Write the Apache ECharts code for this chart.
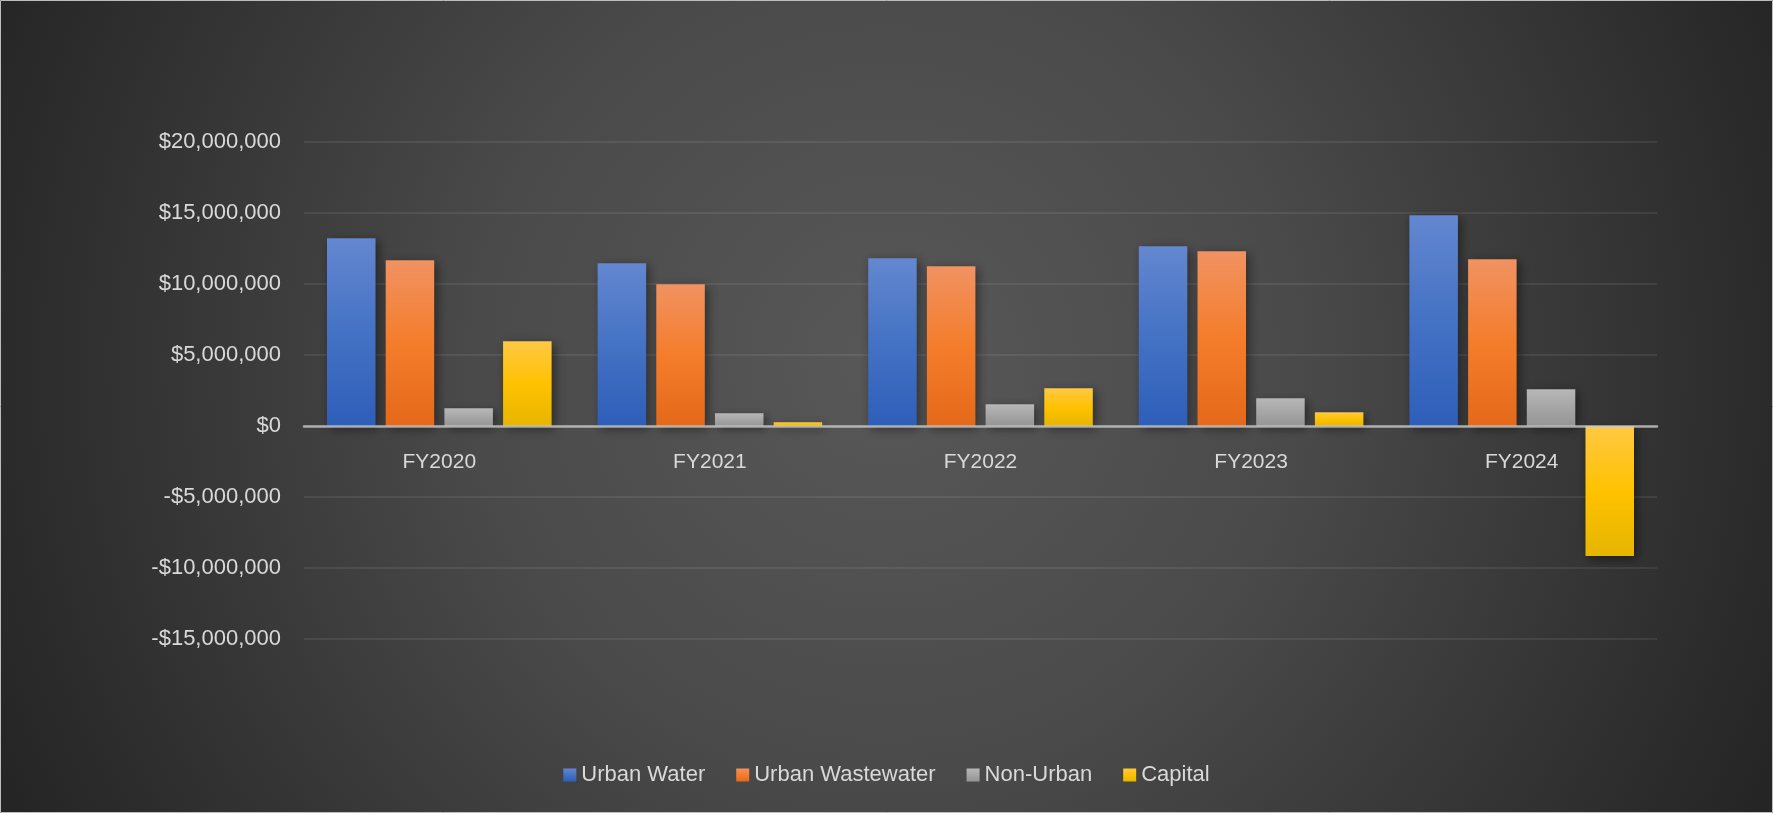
<!DOCTYPE html>
<html>
<head>
<meta charset="utf-8">
<script src="https://cdn.jsdelivr.net/npm/echarts@6/dist/echarts.min.js"></script>
<style>
html,body{margin:0;padding:0;background:#2a2a2a;}
#chart{width:1773px;height:813px;}
</style>
</head>
<body>
<div id="chart"></div>
<script>
const categories = ['FY2020', 'FY2021', 'FY2022', 'FY2023', 'FY2024'];
const urbanWater = [13220000, 11460000, 11810000, 12650000, 14840000];
const urbanWastewater = [11670000, 9980000, 11250000, 12300000, 11740000];
const nonUrban = [1250000, 890000, 1530000, 1950000, 2580000];
const capital = [5960000, 260000, 2650000, 960000, -9150000];
const seriesNames = ['Urban Water', 'Urban Wastewater', 'Non-Urban', 'Capital'];
const yMin = -15000000, yMax = 20000000, yStep = 5000000;

const FONT = '"Liberation Sans", Arial, sans-serif';
const TXT = '#d9d9d9';

function grad(c0, c1, c2) {
  return { type: 'linear', x: 0, y: 0, x2: 0, y2: 1,
    colorStops: [{ offset: 0, color: c0 }, { offset: 0.5, color: c1 }, { offset: 1, color: c2 }] };
}
const colors = [
  grad('#6487d0', '#4472c4', '#2e5eb9'),
  grad('#f19262', '#f47d2b', '#e4691a'),
  grad('#b7b7b7', '#a6a6a6', '#959595'),
  grad('#ffc844', '#ffc200', '#e6b500')
];

function money(v) {
  const s = Math.abs(v).toString().replace(/\B(?=(\d{3})+(?!\d))/g, ',');
  return (v < 0 ? '-' : '') + '$' + s;
}

const H = 813, gridTop = 142, gridBottom = 174;
const plotH = H - gridTop - gridBottom;
// distance from bottom of plot up to the zero line, derived from the axis range
const zeroOffset = plotH * (0 - yMin) / (yMax - yMin);

const chart = echarts.init(document.getElementById('chart'), null, { renderer: 'canvas' });
const dataSets = [urbanWater, urbanWastewater, nonUrban, capital];

chart.setOption({
  animation: false,
  backgroundColor: {
    type: 'radial', x: 0.5, y: 0.45, r: 1.2,
    colorStops: [
      { offset: 0, color: '#585858' },
      { offset: 0.42, color: '#4a4a4a' },
      { offset: 0.9, color: '#2b2b2b' },
      { offset: 1, color: '#252525' }
    ]
  },
  textStyle: { fontFamily: FONT },
  graphic: [{
    type: 'rect', silent: true, z: 100,
    shape: { x: 0.5, y: 0.5, width: 1772, height: 812 },
    style: { fill: 'none', stroke: '#bdbdbd', lineWidth: 1 }
  }],
  grid: { left: 304, right: 116, top: gridTop, bottom: gridBottom, containLabel: false },
  legend: {
    bottom: 22,
    left: 'center',
    itemWidth: 13, itemHeight: 13, itemGap: 31,
    icon: 'rect',
    textStyle: { color: TXT, fontSize: 22, fontFamily: FONT },
    data: seriesNames
  },
  xAxis: {
    type: 'category',
    data: categories,
    z: 5,
    position: 'bottom',
    offset: -zeroOffset,
    axisLine: { onZero: false, lineStyle: { color: 'rgba(200,200,200,0.8)', width: 2.5 } },
    axisTick: { show: false },
    axisLabel: { color: TXT, fontSize: 21, fontFamily: FONT, margin: 26 },
    splitLine: { show: false }
  },
  yAxis: {
    type: 'value',
    min: yMin, max: yMax, interval: yStep,
    axisLine: { show: false },
    axisTick: { show: false },
    axisLabel: { color: TXT, fontSize: 22, fontFamily: FONT, margin: 23, formatter: money },
    splitLine: { lineStyle: { color: 'rgba(255,255,255,0.1)', width: 1.5 } }
  },
  series: seriesNames.map((name, i) => ({
    name: name,
    type: 'bar',
    data: dataSets[i],
    barGap: '21%',
    barCategoryGap: '17%',
    itemStyle: {
      color: colors[i],
      shadowBlur: 10,
      shadowColor: 'rgba(0,0,0,0.45)',
      shadowOffsetX: 3,
      shadowOffsetY: 3
    }
  }))
});
</script>
</body>
</html>
